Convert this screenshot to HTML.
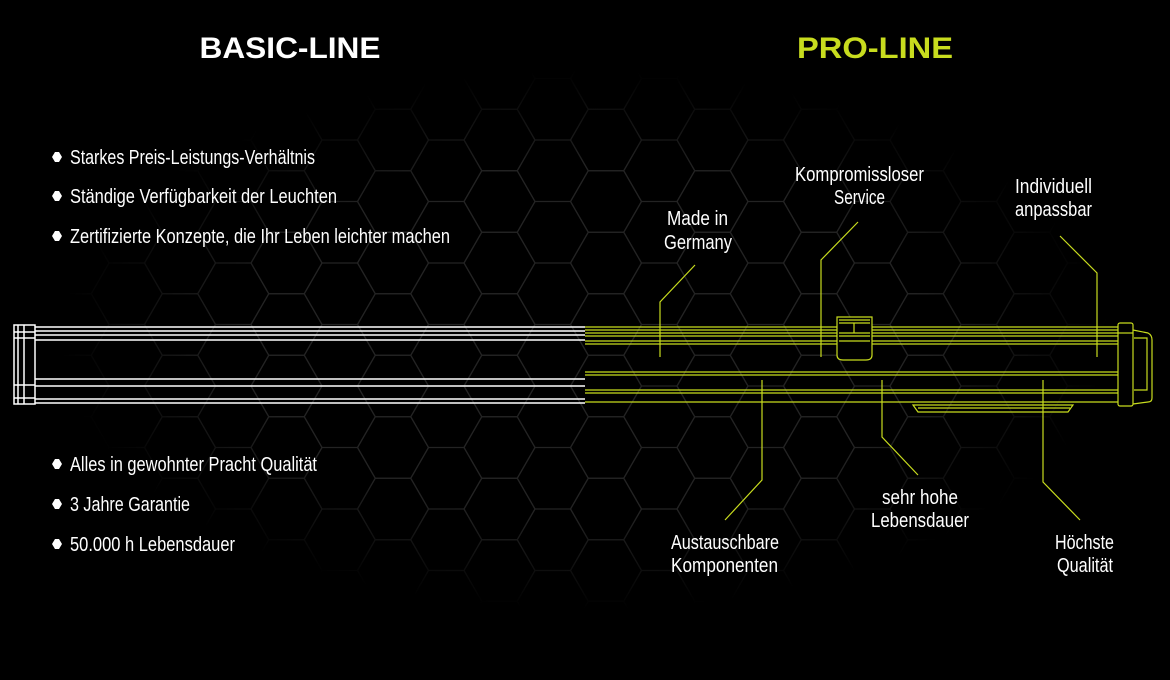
<!DOCTYPE html>
<html><head><meta charset="utf-8"><style>
html,body{margin:0;padding:0;background:#000;}
svg{display:block}
.t{font-family:"Liberation Sans Narrow","Liberation Sans",sans-serif;fill:#fff;font-size:20px}
.h{font-family:"Liberation Sans",sans-serif;font-weight:bold;font-size:30px}
</style></head><body>
<svg width="1170" height="680" viewBox="0 0 1170 680" xmlns="http://www.w3.org/2000/svg">
<defs>
<pattern id="hex" patternUnits="userSpaceOnUse" x="73.5" y="17" width="106.5" height="61.5">
<g fill="none" stroke="#232323" stroke-width="1.2">
<path d="M35.5,0 L17.75,30.75 L-17.75,30.75 L-35.5,0 L-17.75,-30.75 L17.75,-30.75Z"/>
<path d="M142,0 L124.25,30.75 L88.75,30.75 L71,0 L88.75,-30.75 L124.25,-30.75Z"/>
<path d="M35.5,61.5 L17.75,92.25 L-17.75,92.25 L-35.5,61.5 L-17.75,30.75 L17.75,30.75Z"/>
<path d="M142,61.5 L124.25,92.25 L88.75,92.25 L71,61.5 L88.75,30.75 L124.25,30.75Z"/>
<path d="M88.75,30.75 L71,61.5 L35.5,61.5 L17.75,30.75 L35.5,0 L71,0Z"/>
</g></pattern>
<radialGradient id="fade" cx="0.5" cy="0.5" r="0.5">
<stop offset="0.65" stop-color="#fff"/><stop offset="1" stop-color="#000"/></radialGradient>
<mask id="m"><rect x="60" y="70" width="1050" height="540" fill="url(#fade)"/></mask>
</defs>
<rect width="1170" height="680" fill="#000"/>
<rect x="60" y="70" width="1050" height="540" fill="url(#hex)" mask="url(#m)"/>

<text class="h" x="290" y="58" fill="#fff" text-anchor="middle" textLength="181" lengthAdjust="spacingAndGlyphs">BASIC-LINE</text>
<text class="h" x="875" y="58" fill="#c8dc1e" text-anchor="middle" textLength="156" lengthAdjust="spacingAndGlyphs">PRO-LINE</text>

<g fill="#fff">
<polygon points="52,157 55,152 59,152 62,157 59,162 55,162"/>
<polygon points="52,196 55,191 59,191 62,196 59,201 55,201"/>
<polygon points="52,236 55,231 59,231 62,236 59,241 55,241"/>
<polygon points="52,464 55,459 59,459 62,464 59,469 55,469"/>
<polygon points="52,504 55,499 59,499 62,504 59,509 55,509"/>
<polygon points="52,544 55,539 59,539 62,544 59,549 55,549"/>
</g>
<g class="t">
<text x="70" y="164" textLength="245" lengthAdjust="spacingAndGlyphs">Starkes Preis-Leistungs-Verhältnis</text>
<text x="70" y="203" textLength="267" lengthAdjust="spacingAndGlyphs">Ständige Verfügbarkeit der Leuchten</text>
<text x="70" y="243" textLength="380" lengthAdjust="spacingAndGlyphs">Zertifizierte Konzepte, die Ihr Leben leichter machen</text>
<text x="70" y="471" textLength="247" lengthAdjust="spacingAndGlyphs">Alles in gewohnter Pracht Qualität</text>
<text x="70" y="511" textLength="120" lengthAdjust="spacingAndGlyphs">3 Jahre Garantie</text>
<text x="70" y="551" textLength="165" lengthAdjust="spacingAndGlyphs">50.000 h Lebensdauer</text>
</g>

<g stroke="#fff" stroke-width="1.5" fill="none">
<line x1="35" y1="327" x2="585" y2="327"/>
<line x1="35" y1="331" x2="585" y2="331"/>
<line x1="35" y1="335" x2="585" y2="335"/>
<line x1="35" y1="340" x2="585" y2="340"/>
<line x1="35" y1="379" x2="585" y2="379"/>
<line x1="35" y1="386" x2="585" y2="386"/>
<line x1="35" y1="399" x2="585" y2="399"/>
<line x1="35" y1="403" x2="585" y2="403"/>
<rect x="14" y="325" width="21" height="79"/>
<line x1="18" y1="325" x2="18" y2="404"/>
<line x1="24" y1="325" x2="24" y2="404"/>
<line x1="14" y1="332" x2="35" y2="332"/>
<line x1="14" y1="338" x2="35" y2="338"/>
<line x1="14" y1="385" x2="35" y2="385"/>
<line x1="14" y1="398" x2="35" y2="398"/>
</g>

<g stroke="#c8dc1e" stroke-width="1.2" fill="none">
<line x1="585" y1="327" x2="1118" y2="327"/>
<line x1="585" y1="330" x2="1118" y2="330"/>
<line x1="585" y1="333" x2="1118" y2="333"/>
<line x1="585" y1="336" x2="1118" y2="336"/>
<line x1="585" y1="341" x2="1118" y2="341"/>
<line x1="585" y1="344" x2="1118" y2="344"/>
<line x1="585" y1="372" x2="1118" y2="372"/>
<line x1="585" y1="375" x2="1118" y2="375"/>
<line x1="585" y1="390" x2="1118" y2="390"/>
<line x1="585" y1="393" x2="1118" y2="393"/>
<line x1="585" y1="402" x2="1118" y2="402"/>
<path d="M837,317 H872 V355 Q872,360 866,360 H843 Q837,360 837,355 Z" fill="#000"/>
<path d="M839,320 H870 M839,323 H870 M839,333 H870 M839,336 H870 M839,341 H870 M854,323 V333"/>
<rect x="1118" y="323" width="15" height="83" rx="2" fill="#000"/>
<line x1="1118" y1="333" x2="1133" y2="333"/>
<path d="M1133,330 L1148,333 Q1152,335 1152,340 V398 Q1152,402 1148,402 L1133,404"/>
<path d="M1134,338 H1147 V390 H1134"/>
<path d="M913,405 H1073 L1068,412 H918 Z"/>
<line x1="918" y1="408" x2="1070" y2="408"/>
</g>

<g stroke="#c8dc1e" stroke-width="1.2" fill="none">
<polyline points="695,265 660,302 660,357"/>
<polyline points="858,222 821,260 821,357"/>
<polyline points="1060,236 1097,273 1097,357"/>
<polyline points="762,380 762,480 725,520"/>
<polyline points="882,380 882,437 918,475"/>
<polyline points="1043,380 1043,482 1080,520"/>
</g>
<g class="t" font-size="19">
<text x="667" y="225" textLength="61" lengthAdjust="spacingAndGlyphs">Made in</text>
<text x="664" y="249" textLength="68" lengthAdjust="spacingAndGlyphs">Germany</text>
<text x="795" y="181" textLength="129" lengthAdjust="spacingAndGlyphs">Kompromissloser</text>
<text x="834" y="204" textLength="51" lengthAdjust="spacingAndGlyphs">Service</text>
<text x="1015" y="193" textLength="77" lengthAdjust="spacingAndGlyphs">Individuell</text>
<text x="1015" y="216" textLength="77" lengthAdjust="spacingAndGlyphs">anpassbar</text>
<text x="671" y="549" textLength="108" lengthAdjust="spacingAndGlyphs">Austauschbare</text>
<text x="671" y="572" textLength="107" lengthAdjust="spacingAndGlyphs">Komponenten</text>
<text x="882" y="504" textLength="76" lengthAdjust="spacingAndGlyphs">sehr hohe</text>
<text x="871" y="527" textLength="98" lengthAdjust="spacingAndGlyphs">Lebensdauer</text>
<text x="1055" y="549" textLength="59" lengthAdjust="spacingAndGlyphs">Höchste</text>
<text x="1057" y="572" textLength="56" lengthAdjust="spacingAndGlyphs">Qualität</text>
</g>
</svg>
</body></html>
